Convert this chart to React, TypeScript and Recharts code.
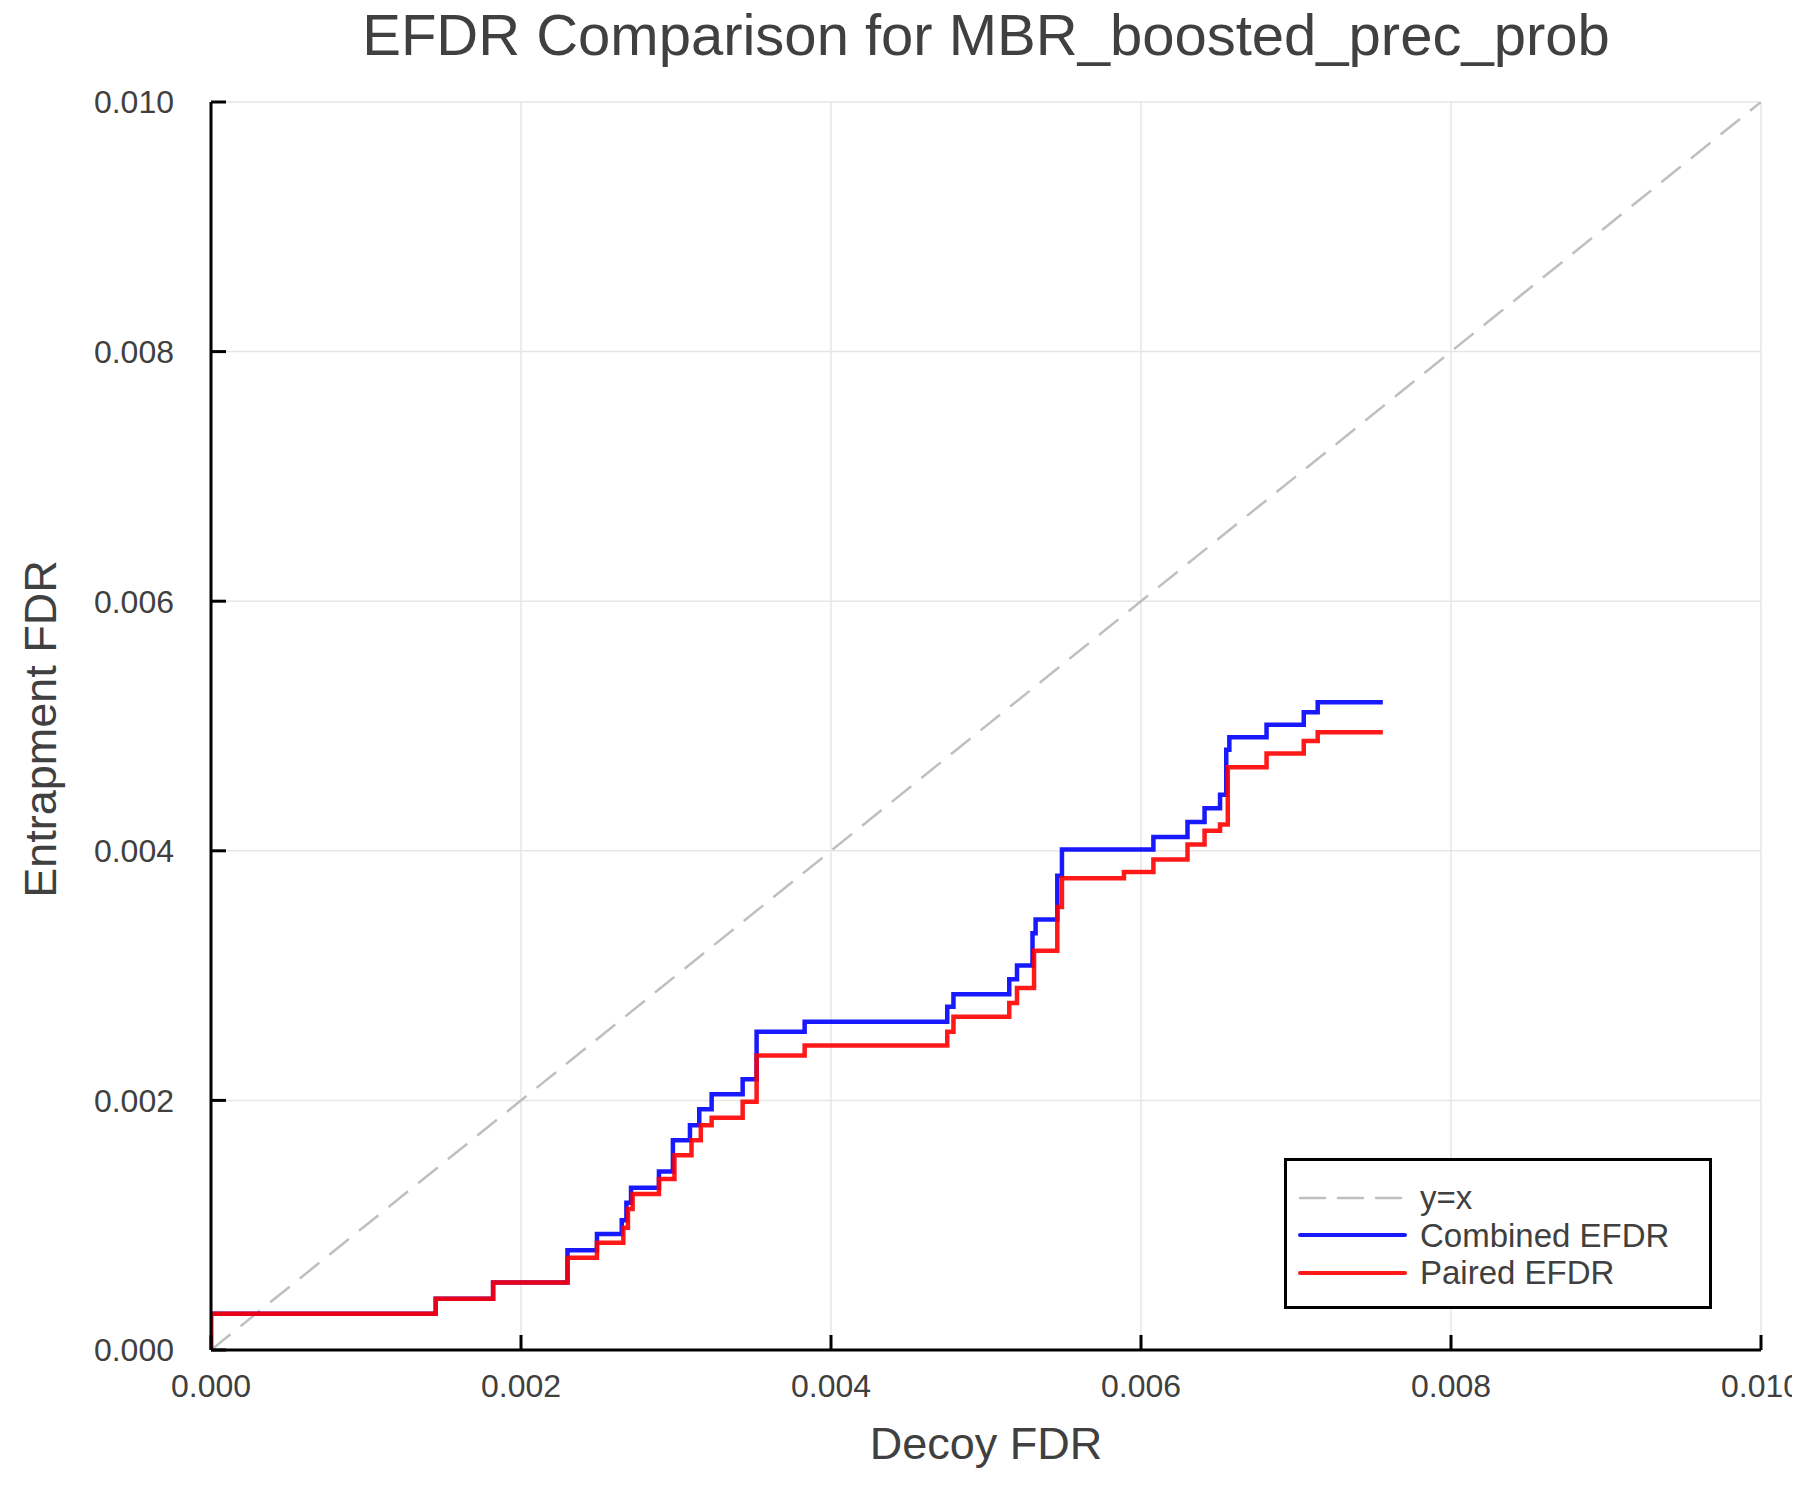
import React from "react";
import { LineChart, Line, XAxis, YAxis, CartesianGrid, Legend } from "recharts";

const FONT = '"Liberation Sans", Arial, Helvetica, sans-serif';
const TEXT = "#404040";

// tick positions shared by both axes
const axisTicks = [0, 0.002, 0.004, 0.006, 0.008, 0.01];

// legend order as in the original plot
const seriesOrder = ["y=x", "Combined EFDR", "Paired EFDR"];

// reference diagonal
const identityX = [0, 0.01];
const identityY = [0, 0.01];

// Combined EFDR step curve (x = decoy FDR, y = entrapment FDR)
const combinedX = [
  0, 0, 0.00145, 0.00182, 0.0023, 0.00249, 0.00265, 0.00268, 0.00271, 0.00289,
  0.00298, 0.00309, 0.00315, 0.00323, 0.00343, 0.00352, 0.00383, 0.00475, 0.00479,
  0.00515, 0.0052, 0.0053, 0.00532, 0.00546, 0.00549, 0.00608, 0.0063, 0.00641,
  0.00651, 0.00655, 0.00657, 0.00681, 0.00705, 0.00714, 0.00756
];
const combinedY = [
  0, 0.00029, 0.00041, 0.00054, 0.0008, 0.00093, 0.00104, 0.00118, 0.0013, 0.00143,
  0.00168, 0.0018, 0.00193, 0.00205, 0.00217, 0.00255, 0.00263, 0.00275, 0.00285,
  0.00297, 0.00308, 0.00334, 0.00345, 0.0038, 0.00401, 0.00411, 0.00423, 0.00434,
  0.00445, 0.00481, 0.00491, 0.00501, 0.00511, 0.00519, 0.00519
];

// Paired EFDR step curve
const pairedX = [
  0, 0, 0.00145, 0.00182, 0.0023, 0.00249, 0.00266, 0.00269, 0.00272, 0.00289,
  0.00299, 0.0031, 0.00316, 0.00323, 0.00343, 0.00352, 0.00383, 0.00475, 0.00479,
  0.00515, 0.0052, 0.00531, 0.00546, 0.00549, 0.00589, 0.00608, 0.0063, 0.00641,
  0.00651, 0.00656, 0.00681, 0.00705, 0.00714, 0.00756
];
const pairedY = [
  0, 0.00029, 0.00041, 0.00054, 0.00074, 0.00086, 0.00098, 0.00113, 0.00125, 0.00137,
  0.00156, 0.00168, 0.0018, 0.00186, 0.00199, 0.00236, 0.00244, 0.00255, 0.00267,
  0.00278, 0.0029, 0.0032, 0.00355, 0.00378, 0.00383, 0.00393, 0.00405, 0.00416,
  0.00421, 0.00467, 0.00478, 0.00488, 0.00495, 0.00495
];

const toPoints = (xs: number[], ys: number[]) => xs.map((x, i) => ({ x, y: ys[i] }));

const identityData = toPoints(identityX, identityY);
const combinedData = toPoints(combinedX, combinedY);
const pairedData = toPoints(pairedX, pairedY);

const fmt = (v: number) => v.toFixed(3);

const LegendBox = (props: any) => {
  const items = [...(props.payload || [])].sort(
    (a: any, b: any) => seriesOrder.indexOf(a.value) - seriesOrder.indexOf(b.value)
  );
  return (
    <div
      style={{
        width: 428,
        height: 151,
        boxSizing: "border-box",
        border: "3px solid #000",
        background: "#fff",
        paddingTop: 18,
        fontFamily: FONT,
        fontSize: 33,
        color: TEXT
      }}
    >
      {items.map((it: any) => (
        <div key={it.value} style={{ display: "flex", alignItems: "center", height: 37.5 }}>
          <svg width={133} height={20} style={{ flex: "none" }}>
            <line
              x1={13}
              x2={118}
              y1={10}
              y2={10}
              stroke={it.color}
              strokeWidth={it.payload?.strokeDasharray ? 2.5 : 4}
              strokeDasharray={it.payload?.strokeDasharray}
              strokeOpacity={it.payload?.strokeOpacity ?? 1}
              strokeLinecap="round"
            />
          </svg>
          <span style={{ whiteSpace: "nowrap", lineHeight: 1 }}>{it.value}</span>
        </div>
      ))}
    </div>
  );
};

export default function App() {
  return (
    <div style={{ position: "relative", width: 1792, height: 1484, fontFamily: FONT }}>
      <div
        style={{
          position: "absolute",
          left: 0,
          width: 1956,
          top: -2,
          textAlign: "center",
          fontSize: 58,
          lineHeight: 1,
          color: TEXT,
          whiteSpace: "nowrap"
        }}
      >
        EFDR Comparison for MBR_boosted_prec_prob
      </div>
      <LineChart
        width={1792}
        height={1484}
        margin={{ top: 94, right: 39, left: 0, bottom: 82 }}
        style={{ fontFamily: FONT }}
      >
        <CartesianGrid stroke="#e6e6e6" strokeWidth={1.5} />
        <XAxis
          dataKey="x"
          type="number"
          domain={[0, 0.01]}
          ticks={axisTicks}
          tickFormatter={fmt}
          height={60}
          axisLine={{ stroke: "#000", strokeWidth: 3 }}
          tickLine={{ stroke: "#000", strokeWidth: 3 }}
          tickSize={-15}
          tickMargin={39}
          tick={{ fill: TEXT, fontSize: 32 }}
          allowDataOverflow
        />
        <YAxis
          dataKey="y"
          type="number"
          domain={[0, 0.01]}
          ticks={axisTicks}
          tickFormatter={fmt}
          width={203}
          axisLine={{ stroke: "#000", strokeWidth: 3 }}
          tickLine={{ stroke: "#000", strokeWidth: 3 }}
          tickSize={-15}
          tickMargin={52}
          tick={{ fill: TEXT, fontSize: 32 }}
          allowDataOverflow
        />
        <Legend
          layout="horizontal"
          verticalAlign="middle"
          align="center"
          content={<LegendBox />}
          wrapperStyle={{ left: 1276, top: 1150, width: 428, height: 151 }}
        />
        <Line
          data={identityData}
          dataKey="y"
          name="y=x"
          type="linear"
          stroke="#bfbfbf"
          strokeWidth={2.5}
          strokeDasharray="25 13"
          dot={false}
          activeDot={false}
          isAnimationActive={false}
        />
        <Line
          data={combinedData}
          dataKey="y"
          name="Combined EFDR"
          type="stepAfter"
          stroke="#0000ff"
          strokeOpacity={0.9}
          strokeWidth={4.5}
          dot={false}
          activeDot={false}
          isAnimationActive={false}
        />
        <Line
          data={pairedData}
          dataKey="y"
          name="Paired EFDR"
          type="stepAfter"
          stroke="#ff0000"
          strokeOpacity={0.9}
          strokeWidth={4.5}
          dot={false}
          activeDot={false}
          isAnimationActive={false}
        />
      </LineChart>
      <div
        style={{
          position: "absolute",
          left: 0,
          width: 1956,
          top: 1413,
          textAlign: "center",
          fontSize: 45,
          lineHeight: 1,
          color: TEXT,
          whiteSpace: "nowrap"
        }}
      >
        Decoy FDR
      </div>
      <div
        style={{
          position: "absolute",
          left: 32,
          top: 721,
          transform: "translate(-50%, -50%) rotate(-90deg)",
          fontSize: 45,
          lineHeight: 1,
          color: TEXT,
          whiteSpace: "nowrap"
        }}
      >
        Entrapment FDR
      </div>
    </div>
  );
}
